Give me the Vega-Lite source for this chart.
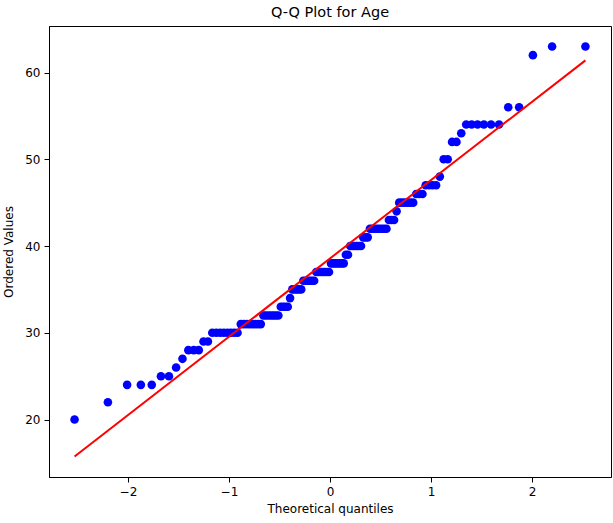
{
  "$schema": "https://vega.github.io/schema/vega-lite/v6.json",
  "width": 562,
  "height": 451,
  "autosize": {"type": "none"},
  "padding": {"left": 49, "top": 26, "right": 2, "bottom": 46},
  "background": "white",
  "title": {
    "text": "Q-Q Plot for Age",
    "font": "DejaVu Sans",
    "fontSize": 14.5,
    "fontWeight": "normal",
    "color": "#000000",
    "anchor": "middle",
    "offset": 6
  },
  "config": {
    "view": {"stroke": "#000000", "strokeWidth": 1},
    "axis": {
      "grid": false,
      "domainColor": "#000000",
      "domainWidth": 1,
      "tickColor": "#000000",
      "tickWidth": 1,
      "tickSize": 5,
      "labelFont": "DejaVu Sans",
      "labelFontSize": 12,
      "labelColor": "#000000",
      "labelPadding": 4,
      "titleFont": "DejaVu Sans",
      "titleFontSize": 12,
      "titleFontWeight": "normal",
      "titleColor": "#000000"
    }
  },
  "datasets": {
    "points": [
      {"x": -2.528, "y": 20}, {"x": -2.198, "y": 22}, {"x": -2.008, "y": 24}, {"x": -1.872, "y": 24},
      {"x": -1.764, "y": 24}, {"x": -1.673, "y": 25}, {"x": -1.594, "y": 25}, {"x": -1.523, "y": 26},
      {"x": -1.460, "y": 27}, {"x": -1.402, "y": 28}, {"x": -1.348, "y": 28}, {"x": -1.299, "y": 28},
      {"x": -1.252, "y": 29}, {"x": -1.208, "y": 29}, {"x": -1.165, "y": 30}, {"x": -1.125, "y": 30},
      {"x": -1.087, "y": 30}, {"x": -1.050, "y": 30}, {"x": -1.014, "y": 30}, {"x": -0.980, "y": 30},
      {"x": -0.947, "y": 30}, {"x": -0.915, "y": 30}, {"x": -0.883, "y": 31}, {"x": -0.853, "y": 31},
      {"x": -0.823, "y": 31}, {"x": -0.794, "y": 31}, {"x": -0.767, "y": 31}, {"x": -0.739, "y": 31},
      {"x": -0.712, "y": 31}, {"x": -0.685, "y": 31}, {"x": -0.659, "y": 32}, {"x": -0.634, "y": 32},
      {"x": -0.608, "y": 32}, {"x": -0.583, "y": 32}, {"x": -0.559, "y": 32}, {"x": -0.535, "y": 32},
      {"x": -0.511, "y": 32}, {"x": -0.487, "y": 33}, {"x": -0.464, "y": 33}, {"x": -0.441, "y": 33},
      {"x": -0.418, "y": 33}, {"x": -0.395, "y": 34}, {"x": -0.373, "y": 35}, {"x": -0.351, "y": 35},
      {"x": -0.329, "y": 35}, {"x": -0.307, "y": 35}, {"x": -0.285, "y": 35}, {"x": -0.264, "y": 36},
      {"x": -0.242, "y": 36}, {"x": -0.221, "y": 36}, {"x": -0.200, "y": 36}, {"x": -0.178, "y": 36},
      {"x": -0.157, "y": 36}, {"x": -0.136, "y": 37}, {"x": -0.115, "y": 37}, {"x": -0.094, "y": 37},
      {"x": -0.073, "y": 37}, {"x": -0.052, "y": 37}, {"x": -0.031, "y": 37}, {"x": -0.010, "y": 37},
      {"x": 0.010, "y": 38}, {"x": 0.031, "y": 38}, {"x": 0.052, "y": 38}, {"x": 0.073, "y": 38},
      {"x": 0.094, "y": 38}, {"x": 0.115, "y": 38}, {"x": 0.136, "y": 38}, {"x": 0.157, "y": 39},
      {"x": 0.178, "y": 39}, {"x": 0.200, "y": 40}, {"x": 0.221, "y": 40}, {"x": 0.242, "y": 40},
      {"x": 0.264, "y": 40}, {"x": 0.285, "y": 40}, {"x": 0.307, "y": 40}, {"x": 0.329, "y": 41},
      {"x": 0.351, "y": 41}, {"x": 0.373, "y": 41}, {"x": 0.395, "y": 42}, {"x": 0.418, "y": 42},
      {"x": 0.441, "y": 42}, {"x": 0.464, "y": 42}, {"x": 0.487, "y": 42}, {"x": 0.511, "y": 42},
      {"x": 0.535, "y": 42}, {"x": 0.559, "y": 42}, {"x": 0.583, "y": 43}, {"x": 0.608, "y": 43},
      {"x": 0.634, "y": 43}, {"x": 0.659, "y": 44}, {"x": 0.685, "y": 45}, {"x": 0.712, "y": 45},
      {"x": 0.739, "y": 45}, {"x": 0.767, "y": 45}, {"x": 0.794, "y": 45}, {"x": 0.823, "y": 45},
      {"x": 0.853, "y": 46}, {"x": 0.883, "y": 46}, {"x": 0.915, "y": 46}, {"x": 0.947, "y": 47},
      {"x": 0.980, "y": 47}, {"x": 1.014, "y": 47}, {"x": 1.050, "y": 47}, {"x": 1.087, "y": 48},
      {"x": 1.125, "y": 50}, {"x": 1.165, "y": 50}, {"x": 1.208, "y": 52}, {"x": 1.252, "y": 52},
      {"x": 1.299, "y": 53}, {"x": 1.348, "y": 54}, {"x": 1.402, "y": 54}, {"x": 1.460, "y": 54},
      {"x": 1.523, "y": 54}, {"x": 1.594, "y": 54}, {"x": 1.673, "y": 54}, {"x": 1.764, "y": 56},
      {"x": 1.872, "y": 56}, {"x": 2.008, "y": 62}, {"x": 2.198, "y": 63}, {"x": 2.528, "y": 63}
    ],
    "fit": [
      {"x": -2.528, "y": 15.74},
      {"x": 2.528, "y": 61.40}
    ]
  },
  "layer": [
    {
      "data": {"name": "points"},
      "mark": {"type": "point", "shape": "circle", "filled": true, "opacity": 1, "size": 74, "color": "#0000ff"},
      "encoding": {
        "x": {
          "field": "x", "type": "quantitative",
          "scale": {"domain": [-2.781, 2.781], "nice": false, "zero": false},
          "axis": {"values": [-2, -1, 0, 1, 2], "format": "d", "title": "Theoretical quantiles", "titlePadding": 6}
        },
        "y": {
          "field": "y", "type": "quantitative",
          "scale": {"domain": [13.38, 65.36], "nice": false, "zero": false},
          "axis": {"values": [20, 30, 40, 50, 60], "format": "d", "title": "Ordered Values", "titlePadding": 9}
        }
      }
    },
    {
      "data": {"name": "fit"},
      "mark": {"type": "line", "color": "#ff0000", "strokeWidth": 2},
      "encoding": {
        "x": {"field": "x", "type": "quantitative"},
        "y": {"field": "y", "type": "quantitative"}
      }
    }
  ]
}
